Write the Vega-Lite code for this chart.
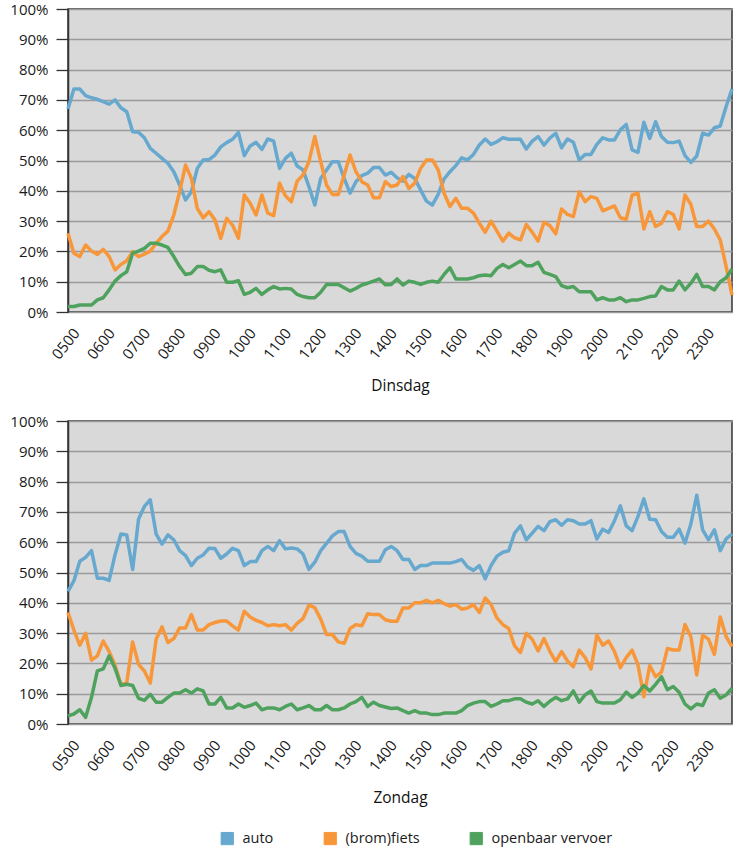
{
"$schema": "https://vega.github.io/schema/vega-lite/v6.json",
"padding": {"left": 9, "top": 1, "right": 4, "bottom": 4},
"spacing": 17,
"config": {
 "font": "Open Sans",
 "view": {"fill": "#d9d9d9", "stroke": "#333333", "strokeWidth": 1.5},
 "axis": {"labelFont": "Open Sans", "labelFontSize": 15, "labelColor": "#1a1a1a", "titleFont": "Open Sans", "titleFontSize": 15.5, "titleFontWeight": "normal", "titleColor": "#111111"},
 "legend": {"labelFont": "Open Sans", "labelFontSize": 14.5, "labelColor": "#1a1a1a"}
},
"datasets": {
"di": [
{"t":"0500","m":"auto","v":67.0},{"t":"0510","m":"auto","v":73.6},{"t":"0520","m":"auto","v":73.6},{"t":"0530","m":"auto","v":71.4},{"t":"0540","m":"auto","v":70.7},{"t":"0550","m":"auto","v":70.2},
{"t":"0600","m":"auto","v":69.4},{"t":"0610","m":"auto","v":68.6},{"t":"0620","m":"auto","v":70.0},{"t":"0630","m":"auto","v":67.4},{"t":"0640","m":"auto","v":66.1},{"t":"0650","m":"auto","v":59.5},
{"t":"0700","m":"auto","v":59.3},{"t":"0710","m":"auto","v":57.5},{"t":"0720","m":"auto","v":54.0},{"t":"0730","m":"auto","v":52.4},{"t":"0740","m":"auto","v":50.7},{"t":"0750","m":"auto","v":49.1},
{"t":"0800","m":"auto","v":46.3},{"t":"0810","m":"auto","v":41.9},{"t":"0820","m":"auto","v":37.0},{"t":"0830","m":"auto","v":39.7},{"t":"0840","m":"auto","v":47.4},{"t":"0850","m":"auto","v":50.2},
{"t":"0900","m":"auto","v":50.3},{"t":"0910","m":"auto","v":51.8},{"t":"0920","m":"auto","v":54.5},{"t":"0930","m":"auto","v":55.9},{"t":"0940","m":"auto","v":57.0},{"t":"0950","m":"auto","v":59.3},
{"t":"1000","m":"auto","v":51.6},{"t":"1010","m":"auto","v":54.8},{"t":"1020","m":"auto","v":56.0},{"t":"1030","m":"auto","v":53.7},{"t":"1040","m":"auto","v":57.1},{"t":"1050","m":"auto","v":56.4},
{"t":"1100","m":"auto","v":47.4},{"t":"1110","m":"auto","v":50.7},{"t":"1120","m":"auto","v":52.4},{"t":"1130","m":"auto","v":48.2},{"t":"1140","m":"auto","v":46.9},{"t":"1150","m":"auto","v":41.4},
{"t":"1200","m":"auto","v":35.3},{"t":"1210","m":"auto","v":44.1},{"t":"1220","m":"auto","v":46.9},{"t":"1230","m":"auto","v":49.6},{"t":"1240","m":"auto","v":49.6},{"t":"1250","m":"auto","v":44.1},
{"t":"1300","m":"auto","v":39.2},{"t":"1310","m":"auto","v":43.0},{"t":"1320","m":"auto","v":45.0},{"t":"1330","m":"auto","v":45.8},{"t":"1340","m":"auto","v":47.7},{"t":"1350","m":"auto","v":47.7},
{"t":"1400","m":"auto","v":45.2},{"t":"1410","m":"auto","v":46.1},{"t":"1420","m":"auto","v":44.3},{"t":"1430","m":"auto","v":43.2},{"t":"1440","m":"auto","v":45.4},{"t":"1450","m":"auto","v":44.1},
{"t":"1500","m":"auto","v":40.3},{"t":"1510","m":"auto","v":36.6},{"t":"1520","m":"auto","v":35.3},{"t":"1530","m":"auto","v":38.8},{"t":"1540","m":"auto","v":43.9},{"t":"1550","m":"auto","v":46.3},
{"t":"1600","m":"auto","v":48.3},{"t":"1610","m":"auto","v":50.9},{"t":"1620","m":"auto","v":50.2},{"t":"1630","m":"auto","v":52.0},{"t":"1640","m":"auto","v":55.1},{"t":"1650","m":"auto","v":57.1},
{"t":"1700","m":"auto","v":55.3},{"t":"1710","m":"auto","v":56.2},{"t":"1720","m":"auto","v":57.5},{"t":"1730","m":"auto","v":57.0},{"t":"1740","m":"auto","v":57.0},{"t":"1750","m":"auto","v":57.0},
{"t":"1800","m":"auto","v":53.8},{"t":"1810","m":"auto","v":56.4},{"t":"1820","m":"auto","v":57.9},{"t":"1830","m":"auto","v":55.1},{"t":"1840","m":"auto","v":57.4},{"t":"1850","m":"auto","v":59.0},
{"t":"1900","m":"auto","v":54.2},{"t":"1910","m":"auto","v":57.1},{"t":"1920","m":"auto","v":56.0},{"t":"1930","m":"auto","v":50.2},{"t":"1940","m":"auto","v":52.0},{"t":"1950","m":"auto","v":52.0},
{"t":"2000","m":"auto","v":55.3},{"t":"2010","m":"auto","v":57.5},{"t":"2020","m":"auto","v":56.8},{"t":"2030","m":"auto","v":56.8},{"t":"2040","m":"auto","v":60.1},{"t":"2050","m":"auto","v":61.9},
{"t":"2100","m":"auto","v":53.5},{"t":"2110","m":"auto","v":52.7},{"t":"2120","m":"auto","v":62.6},{"t":"2130","m":"auto","v":57.3},{"t":"2140","m":"auto","v":62.8},{"t":"2150","m":"auto","v":57.9},
{"t":"2200","m":"auto","v":56.0},{"t":"2210","m":"auto","v":55.9},{"t":"2220","m":"auto","v":56.4},{"t":"2230","m":"auto","v":51.6},{"t":"2240","m":"auto","v":49.4},{"t":"2250","m":"auto","v":51.5},
{"t":"2300","m":"auto","v":59.0},{"t":"2310","m":"auto","v":58.4},{"t":"2320","m":"auto","v":60.8},{"t":"2330","m":"auto","v":61.4},{"t":"2340","m":"auto","v":67.8},{"t":"2350","m":"auto","v":73.6},
{"t":"0500","m":"fiets","v":26.0},{"t":"0510","m":"fiets","v":19.4},{"t":"0520","m":"fiets","v":18.3},{"t":"0530","m":"fiets","v":22.1},{"t":"0540","m":"fiets","v":20.1},{"t":"0550","m":"fiets","v":19.0},
{"t":"0600","m":"fiets","v":20.7},{"t":"0610","m":"fiets","v":18.3},{"t":"0620","m":"fiets","v":13.9},{"t":"0630","m":"fiets","v":15.7},{"t":"0640","m":"fiets","v":16.9},{"t":"0650","m":"fiets","v":19.9},
{"t":"0700","m":"fiets","v":18.3},{"t":"0710","m":"fiets","v":19.1},{"t":"0720","m":"fiets","v":20.1},{"t":"0730","m":"fiets","v":22.7},{"t":"0740","m":"fiets","v":24.9},{"t":"0750","m":"fiets","v":26.7},
{"t":"0800","m":"fiets","v":32.0},{"t":"0810","m":"fiets","v":39.7},{"t":"0820","m":"fiets","v":48.5},{"t":"0830","m":"fiets","v":44.1},{"t":"0840","m":"fiets","v":34.2},{"t":"0850","m":"fiets","v":31.1},
{"t":"0900","m":"fiets","v":33.1},{"t":"0910","m":"fiets","v":30.4},{"t":"0920","m":"fiets","v":24.3},{"t":"0930","m":"fiets","v":30.9},{"t":"0940","m":"fiets","v":28.7},{"t":"0950","m":"fiets","v":24.3},
{"t":"1000","m":"fiets","v":38.6},{"t":"1010","m":"fiets","v":35.9},{"t":"1020","m":"fiets","v":32.0},{"t":"1030","m":"fiets","v":38.6},{"t":"1040","m":"fiets","v":32.6},{"t":"1050","m":"fiets","v":31.8},
{"t":"1100","m":"fiets","v":42.5},{"t":"1110","m":"fiets","v":38.4},{"t":"1120","m":"fiets","v":36.4},{"t":"1130","m":"fiets","v":43.2},{"t":"1140","m":"fiets","v":45.2},{"t":"1150","m":"fiets","v":49.6},
{"t":"1200","m":"fiets","v":57.9},{"t":"1210","m":"fiets","v":49.6},{"t":"1220","m":"fiets","v":41.9},{"t":"1230","m":"fiets","v":38.8},{"t":"1240","m":"fiets","v":38.8},{"t":"1250","m":"fiets","v":45.2},
{"t":"1300","m":"fiets","v":51.8},{"t":"1310","m":"fiets","v":46.3},{"t":"1320","m":"fiets","v":43.0},{"t":"1330","m":"fiets","v":41.9},{"t":"1340","m":"fiets","v":37.7},{"t":"1350","m":"fiets","v":37.7},
{"t":"1400","m":"fiets","v":43.0},{"t":"1410","m":"fiets","v":41.4},{"t":"1420","m":"fiets","v":41.9},{"t":"1430","m":"fiets","v":44.7},{"t":"1440","m":"fiets","v":40.8},{"t":"1450","m":"fiets","v":42.5},
{"t":"1500","m":"fiets","v":47.4},{"t":"1510","m":"fiets","v":50.2},{"t":"1520","m":"fiets","v":50.2},{"t":"1530","m":"fiets","v":46.9},{"t":"1540","m":"fiets","v":39.2},{"t":"1550","m":"fiets","v":34.8},
{"t":"1600","m":"fiets","v":37.5},{"t":"1610","m":"fiets","v":34.2},{"t":"1620","m":"fiets","v":34.2},{"t":"1630","m":"fiets","v":32.6},{"t":"1640","m":"fiets","v":29.3},{"t":"1650","m":"fiets","v":26.3},
{"t":"1700","m":"fiets","v":30.0},{"t":"1710","m":"fiets","v":26.7},{"t":"1720","m":"fiets","v":23.4},{"t":"1730","m":"fiets","v":26.0},{"t":"1740","m":"fiets","v":24.5},{"t":"1750","m":"fiets","v":23.8},
{"t":"1800","m":"fiets","v":28.9},{"t":"1810","m":"fiets","v":26.3},{"t":"1820","m":"fiets","v":23.4},{"t":"1830","m":"fiets","v":29.6},{"t":"1840","m":"fiets","v":28.5},{"t":"1850","m":"fiets","v":25.8},
{"t":"1900","m":"fiets","v":34.0},{"t":"1910","m":"fiets","v":32.2},{"t":"1920","m":"fiets","v":31.5},{"t":"1930","m":"fiets","v":39.7},{"t":"1940","m":"fiets","v":36.4},{"t":"1950","m":"fiets","v":38.1},
{"t":"2000","m":"fiets","v":37.5},{"t":"2010","m":"fiets","v":33.4},{"t":"2020","m":"fiets","v":34.2},{"t":"2030","m":"fiets","v":35.0},{"t":"2040","m":"fiets","v":31.1},{"t":"2050","m":"fiets","v":30.6},
{"t":"2100","m":"fiets","v":38.6},{"t":"2110","m":"fiets","v":39.2},{"t":"2120","m":"fiets","v":27.4},{"t":"2130","m":"fiets","v":33.1},{"t":"2140","m":"fiets","v":28.2},{"t":"2150","m":"fiets","v":29.3},
{"t":"2200","m":"fiets","v":33.1},{"t":"2210","m":"fiets","v":32.2},{"t":"2220","m":"fiets","v":27.4},{"t":"2230","m":"fiets","v":38.6},{"t":"2240","m":"fiets","v":35.5},{"t":"2250","m":"fiets","v":28.2},
{"t":"2300","m":"fiets","v":28.2},{"t":"2310","m":"fiets","v":30.0},{"t":"2320","m":"fiets","v":27.4},{"t":"2330","m":"fiets","v":23.8},{"t":"2340","m":"fiets","v":15.0},{"t":"2350","m":"fiets","v":5.6},
{"t":"0500","m":"ov","v":1.8},{"t":"0510","m":"ov","v":1.8},{"t":"0520","m":"ov","v":2.3},{"t":"0530","m":"ov","v":2.3},{"t":"0540","m":"ov","v":2.3},{"t":"0550","m":"ov","v":4.0},
{"t":"0600","m":"ov","v":4.7},{"t":"0610","m":"ov","v":7.3},{"t":"0620","m":"ov","v":10.2},{"t":"0630","m":"ov","v":12.0},{"t":"0640","m":"ov","v":13.3},{"t":"0650","m":"ov","v":19.4},
{"t":"0700","m":"ov","v":20.1},{"t":"0710","m":"ov","v":21.0},{"t":"0720","m":"ov","v":22.7},{"t":"0730","m":"ov","v":22.7},{"t":"0740","m":"ov","v":22.1},{"t":"0750","m":"ov","v":21.3},
{"t":"0800","m":"ov","v":18.3},{"t":"0810","m":"ov","v":15.0},{"t":"0820","m":"ov","v":12.4},{"t":"0830","m":"ov","v":12.8},{"t":"0840","m":"ov","v":15.0},{"t":"0850","m":"ov","v":15.0},
{"t":"0900","m":"ov","v":13.8},{"t":"0910","m":"ov","v":13.3},{"t":"0920","m":"ov","v":13.9},{"t":"0930","m":"ov","v":9.8},{"t":"0940","m":"ov","v":9.8},{"t":"0950","m":"ov","v":10.3},
{"t":"1000","m":"ov","v":5.8},{"t":"1010","m":"ov","v":6.5},{"t":"1020","m":"ov","v":7.8},{"t":"1030","m":"ov","v":5.8},{"t":"1040","m":"ov","v":7.3},{"t":"1050","m":"ov","v":8.4},
{"t":"1100","m":"ov","v":7.6},{"t":"1110","m":"ov","v":7.8},{"t":"1120","m":"ov","v":7.6},{"t":"1130","m":"ov","v":5.8},{"t":"1140","m":"ov","v":5.1},{"t":"1150","m":"ov","v":4.7},
{"t":"1200","m":"ov","v":4.7},{"t":"1210","m":"ov","v":6.5},{"t":"1220","m":"ov","v":9.1},{"t":"1230","m":"ov","v":9.1},{"t":"1240","m":"ov","v":9.1},{"t":"1250","m":"ov","v":8.0},
{"t":"1300","m":"ov","v":6.9},{"t":"1310","m":"ov","v":7.8},{"t":"1320","m":"ov","v":8.9},{"t":"1330","m":"ov","v":9.5},{"t":"1340","m":"ov","v":10.2},{"t":"1350","m":"ov","v":10.9},
{"t":"1400","m":"ov","v":9.0},{"t":"1410","m":"ov","v":9.1},{"t":"1420","m":"ov","v":10.9},{"t":"1430","m":"ov","v":8.9},{"t":"1440","m":"ov","v":10.2},{"t":"1450","m":"ov","v":9.8},
{"t":"1500","m":"ov","v":9.1},{"t":"1510","m":"ov","v":9.8},{"t":"1520","m":"ov","v":10.2},{"t":"1530","m":"ov","v":9.8},{"t":"1540","m":"ov","v":12.4},{"t":"1550","m":"ov","v":14.6},
{"t":"1600","m":"ov","v":10.9},{"t":"1610","m":"ov","v":10.9},{"t":"1620","m":"ov","v":10.9},{"t":"1630","m":"ov","v":11.3},{"t":"1640","m":"ov","v":12.0},{"t":"1650","m":"ov","v":12.2},
{"t":"1700","m":"ov","v":12.0},{"t":"1710","m":"ov","v":14.4},{"t":"1720","m":"ov","v":15.7},{"t":"1730","m":"ov","v":14.6},{"t":"1740","m":"ov","v":15.7},{"t":"1750","m":"ov","v":16.8},
{"t":"1800","m":"ov","v":15.3},{"t":"1810","m":"ov","v":15.3},{"t":"1820","m":"ov","v":16.4},{"t":"1830","m":"ov","v":13.1},{"t":"1840","m":"ov","v":12.4},{"t":"1850","m":"ov","v":11.7},
{"t":"1900","m":"ov","v":8.7},{"t":"1910","m":"ov","v":8.0},{"t":"1920","m":"ov","v":8.4},{"t":"1930","m":"ov","v":6.7},{"t":"1940","m":"ov","v":6.7},{"t":"1950","m":"ov","v":6.7},
{"t":"2000","m":"ov","v":4.0},{"t":"2010","m":"ov","v":4.7},{"t":"2020","m":"ov","v":4.0},{"t":"2030","m":"ov","v":4.0},{"t":"2040","m":"ov","v":4.7},{"t":"2050","m":"ov","v":3.4},
{"t":"2100","m":"ov","v":4.0},{"t":"2110","m":"ov","v":4.0},{"t":"2120","m":"ov","v":4.5},{"t":"2130","m":"ov","v":5.1},{"t":"2140","m":"ov","v":5.3},{"t":"2150","m":"ov","v":8.4},
{"t":"2200","m":"ov","v":7.3},{"t":"2210","m":"ov","v":7.3},{"t":"2220","m":"ov","v":10.2},{"t":"2230","m":"ov","v":7.3},{"t":"2240","m":"ov","v":9.5},{"t":"2250","m":"ov","v":12.4},
{"t":"2300","m":"ov","v":8.4},{"t":"2310","m":"ov","v":8.4},{"t":"2320","m":"ov","v":7.3},{"t":"2330","m":"ov","v":10.0},{"t":"2340","m":"ov","v":11.3},{"t":"2350","m":"ov","v":14.2}
],
"zo": [
{"t":"0500","m":"auto","v":43.8},{"t":"0510","m":"auto","v":47.2},{"t":"0520","m":"auto","v":53.7},{"t":"0530","m":"auto","v":55.0},{"t":"0540","m":"auto","v":57.2},{"t":"0550","m":"auto","v":48.1},
{"t":"0600","m":"auto","v":48.1},{"t":"0610","m":"auto","v":47.4},{"t":"0620","m":"auto","v":55.8},{"t":"0630","m":"auto","v":62.7},{"t":"0640","m":"auto","v":62.4},{"t":"0650","m":"auto","v":51.0},
{"t":"0700","m":"auto","v":67.6},{"t":"0710","m":"auto","v":71.8},{"t":"0720","m":"auto","v":74.0},{"t":"0730","m":"auto","v":62.7},{"t":"0740","m":"auto","v":59.4},{"t":"0750","m":"auto","v":62.4},
{"t":"0800","m":"auto","v":60.8},{"t":"0810","m":"auto","v":57.2},{"t":"0820","m":"auto","v":55.6},{"t":"0830","m":"auto","v":52.3},{"t":"0840","m":"auto","v":54.7},{"t":"0850","m":"auto","v":55.8},
{"t":"0900","m":"auto","v":58.0},{"t":"0910","m":"auto","v":57.9},{"t":"0920","m":"auto","v":54.7},{"t":"0930","m":"auto","v":56.1},{"t":"0940","m":"auto","v":58.0},{"t":"0950","m":"auto","v":57.2},
{"t":"1000","m":"auto","v":52.3},{"t":"1010","m":"auto","v":53.6},{"t":"1020","m":"auto","v":53.6},{"t":"1030","m":"auto","v":57.2},{"t":"1040","m":"auto","v":58.6},{"t":"1050","m":"auto","v":57.2},
{"t":"1100","m":"auto","v":60.5},{"t":"1110","m":"auto","v":57.8},{"t":"1120","m":"auto","v":58.1},{"t":"1130","m":"auto","v":57.8},{"t":"1140","m":"auto","v":56.1},{"t":"1150","m":"auto","v":51.0},
{"t":"1200","m":"auto","v":53.4},{"t":"1210","m":"auto","v":57.2},{"t":"1220","m":"auto","v":59.6},{"t":"1230","m":"auto","v":62.1},{"t":"1240","m":"auto","v":63.5},{"t":"1250","m":"auto","v":63.5},
{"t":"1300","m":"auto","v":58.6},{"t":"1310","m":"auto","v":56.3},{"t":"1320","m":"auto","v":55.4},{"t":"1330","m":"auto","v":53.7},{"t":"1340","m":"auto","v":53.7},{"t":"1350","m":"auto","v":53.7},
{"t":"1400","m":"auto","v":57.5},{"t":"1410","m":"auto","v":58.6},{"t":"1420","m":"auto","v":57.2},{"t":"1430","m":"auto","v":54.3},{"t":"1440","m":"auto","v":54.3},{"t":"1450","m":"auto","v":51.0},
{"t":"1500","m":"auto","v":52.3},{"t":"1510","m":"auto","v":52.3},{"t":"1520","m":"auto","v":53.1},{"t":"1530","m":"auto","v":53.1},{"t":"1540","m":"auto","v":53.1},{"t":"1550","m":"auto","v":53.1},
{"t":"1600","m":"auto","v":53.6},{"t":"1610","m":"auto","v":54.3},{"t":"1620","m":"auto","v":51.8},{"t":"1630","m":"auto","v":50.7},{"t":"1640","m":"auto","v":52.3},{"t":"1650","m":"auto","v":47.9},
{"t":"1700","m":"auto","v":52.3},{"t":"1710","m":"auto","v":55.4},{"t":"1720","m":"auto","v":56.7},{"t":"1730","m":"auto","v":57.2},{"t":"1740","m":"auto","v":63.0},{"t":"1750","m":"auto","v":65.4},
{"t":"1800","m":"auto","v":60.8},{"t":"1810","m":"auto","v":63.0},{"t":"1820","m":"auto","v":65.2},{"t":"1830","m":"auto","v":63.8},{"t":"1840","m":"auto","v":66.8},{"t":"1850","m":"auto","v":67.4},
{"t":"1900","m":"auto","v":65.6},{"t":"1910","m":"auto","v":67.4},{"t":"1920","m":"auto","v":67.1},{"t":"1930","m":"auto","v":66.0},{"t":"1940","m":"auto","v":66.0},{"t":"1950","m":"auto","v":67.1},
{"t":"2000","m":"auto","v":61.1},{"t":"2010","m":"auto","v":64.3},{"t":"2020","m":"auto","v":63.2},{"t":"2030","m":"auto","v":67.1},{"t":"2040","m":"auto","v":72.0},{"t":"2050","m":"auto","v":65.4},
{"t":"2100","m":"auto","v":63.8},{"t":"2110","m":"auto","v":68.5},{"t":"2120","m":"auto","v":74.3},{"t":"2130","m":"auto","v":67.6},{"t":"2140","m":"auto","v":67.4},{"t":"2150","m":"auto","v":63.5},
{"t":"2200","m":"auto","v":61.6},{"t":"2210","m":"auto","v":61.6},{"t":"2220","m":"auto","v":64.3},{"t":"2230","m":"auto","v":59.7},{"t":"2240","m":"auto","v":66.0},{"t":"2250","m":"auto","v":75.5},
{"t":"2300","m":"auto","v":64.1},{"t":"2310","m":"auto","v":60.8},{"t":"2320","m":"auto","v":64.1},{"t":"2330","m":"auto","v":57.2},{"t":"2340","m":"auto","v":61.1},{"t":"2350","m":"auto","v":62.7},
{"t":"0500","m":"fiets","v":36.8},{"t":"0510","m":"fiets","v":31.0},{"t":"0520","m":"fiets","v":26.0},{"t":"0530","m":"fiets","v":29.9},{"t":"0540","m":"fiets","v":21.1},{"t":"0550","m":"fiets","v":22.5},
{"t":"0600","m":"fiets","v":27.4},{"t":"0610","m":"fiets","v":23.9},{"t":"0620","m":"fiets","v":19.5},{"t":"0630","m":"fiets","v":13.1},{"t":"0640","m":"fiets","v":13.7},{"t":"0650","m":"fiets","v":27.1},
{"t":"0700","m":"fiets","v":19.7},{"t":"0710","m":"fiets","v":17.5},{"t":"0720","m":"fiets","v":13.5},{"t":"0730","m":"fiets","v":28.0},{"t":"0740","m":"fiets","v":32.1},{"t":"0750","m":"fiets","v":26.9},
{"t":"0800","m":"fiets","v":28.2},{"t":"0810","m":"fiets","v":31.7},{"t":"0820","m":"fiets","v":31.7},{"t":"0830","m":"fiets","v":36.1},{"t":"0840","m":"fiets","v":31.0},{"t":"0850","m":"fiets","v":31.0},
{"t":"0900","m":"fiets","v":32.8},{"t":"0910","m":"fiets","v":33.5},{"t":"0920","m":"fiets","v":34.0},{"t":"0930","m":"fiets","v":34.0},{"t":"0940","m":"fiets","v":32.4},{"t":"0950","m":"fiets","v":31.0},
{"t":"1000","m":"fiets","v":37.2},{"t":"1010","m":"fiets","v":35.3},{"t":"1020","m":"fiets","v":34.2},{"t":"1030","m":"fiets","v":33.5},{"t":"1040","m":"fiets","v":32.4},{"t":"1050","m":"fiets","v":32.8},
{"t":"1100","m":"fiets","v":32.4},{"t":"1110","m":"fiets","v":32.8},{"t":"1120","m":"fiets","v":31.0},{"t":"1130","m":"fiets","v":33.2},{"t":"1140","m":"fiets","v":34.8},{"t":"1150","m":"fiets","v":39.2},
{"t":"1200","m":"fiets","v":38.4},{"t":"1210","m":"fiets","v":34.6},{"t":"1220","m":"fiets","v":29.5},{"t":"1230","m":"fiets","v":29.5},{"t":"1240","m":"fiets","v":27.1},{"t":"1250","m":"fiets","v":26.6},
{"t":"1300","m":"fiets","v":31.5},{"t":"1310","m":"fiets","v":32.8},{"t":"1320","m":"fiets","v":32.4},{"t":"1330","m":"fiets","v":36.4},{"t":"1340","m":"fiets","v":36.1},{"t":"1350","m":"fiets","v":36.1},
{"t":"1400","m":"fiets","v":34.4},{"t":"1410","m":"fiets","v":33.9},{"t":"1420","m":"fiets","v":33.9},{"t":"1430","m":"fiets","v":38.3},{"t":"1440","m":"fiets","v":38.3},{"t":"1450","m":"fiets","v":40.0},
{"t":"1500","m":"fiets","v":40.0},{"t":"1510","m":"fiets","v":40.8},{"t":"1520","m":"fiets","v":40.0},{"t":"1530","m":"fiets","v":40.8},{"t":"1540","m":"fiets","v":39.7},{"t":"1550","m":"fiets","v":38.9},
{"t":"1600","m":"fiets","v":39.4},{"t":"1610","m":"fiets","v":37.9},{"t":"1620","m":"fiets","v":38.3},{"t":"1630","m":"fiets","v":39.4},{"t":"1640","m":"fiets","v":36.8},{"t":"1650","m":"fiets","v":41.6},
{"t":"1700","m":"fiets","v":39.4},{"t":"1710","m":"fiets","v":35.0},{"t":"1720","m":"fiets","v":32.8},{"t":"1730","m":"fiets","v":31.5},{"t":"1740","m":"fiets","v":25.8},{"t":"1750","m":"fiets","v":23.6},
{"t":"1800","m":"fiets","v":29.9},{"t":"1810","m":"fiets","v":28.0},{"t":"1820","m":"fiets","v":24.1},{"t":"1830","m":"fiets","v":28.2},{"t":"1840","m":"fiets","v":24.0},{"t":"1850","m":"fiets","v":20.6},
{"t":"1900","m":"fiets","v":23.9},{"t":"1910","m":"fiets","v":20.8},{"t":"1920","m":"fiets","v":18.9},{"t":"1930","m":"fiets","v":24.4},{"t":"1940","m":"fiets","v":21.9},{"t":"1950","m":"fiets","v":18.2},
{"t":"2000","m":"fiets","v":29.3},{"t":"2010","m":"fiets","v":26.0},{"t":"2020","m":"fiets","v":27.4},{"t":"2030","m":"fiets","v":23.9},{"t":"2040","m":"fiets","v":18.6},{"t":"2050","m":"fiets","v":21.9},
{"t":"2100","m":"fiets","v":24.4},{"t":"2110","m":"fiets","v":19.5},{"t":"2120","m":"fiets","v":9.0},{"t":"2130","m":"fiets","v":19.3},{"t":"2140","m":"fiets","v":15.6},{"t":"2150","m":"fiets","v":17.1},
{"t":"2200","m":"fiets","v":24.9},{"t":"2210","m":"fiets","v":24.4},{"t":"2220","m":"fiets","v":24.4},{"t":"2230","m":"fiets","v":32.8},{"t":"2240","m":"fiets","v":28.8},{"t":"2250","m":"fiets","v":16.2},
{"t":"2300","m":"fiets","v":29.3},{"t":"2310","m":"fiets","v":28.0},{"t":"2320","m":"fiets","v":23.0},{"t":"2330","m":"fiets","v":35.3},{"t":"2340","m":"fiets","v":28.8},{"t":"2350","m":"fiets","v":25.5},
{"t":"0500","m":"ov","v":2.7},{"t":"0510","m":"ov","v":3.3},{"t":"0520","m":"ov","v":4.7},{"t":"0530","m":"ov","v":2.2},{"t":"0540","m":"ov","v":8.8},{"t":"0550","m":"ov","v":17.5},
{"t":"0600","m":"ov","v":18.2},{"t":"0610","m":"ov","v":22.5},{"t":"0620","m":"ov","v":18.4},{"t":"0630","m":"ov","v":12.7},{"t":"0640","m":"ov","v":13.1},{"t":"0650","m":"ov","v":12.7},
{"t":"0700","m":"ov","v":8.5},{"t":"0710","m":"ov","v":7.8},{"t":"0720","m":"ov","v":9.8},{"t":"0730","m":"ov","v":7.2},{"t":"0740","m":"ov","v":7.2},{"t":"0750","m":"ov","v":8.8},
{"t":"0800","m":"ov","v":10.2},{"t":"0810","m":"ov","v":10.2},{"t":"0820","m":"ov","v":11.3},{"t":"0830","m":"ov","v":10.2},{"t":"0840","m":"ov","v":11.6},{"t":"0850","m":"ov","v":10.9},
{"t":"0900","m":"ov","v":6.6},{"t":"0910","m":"ov","v":6.6},{"t":"0920","m":"ov","v":8.8},{"t":"0930","m":"ov","v":5.3},{"t":"0940","m":"ov","v":5.3},{"t":"0950","m":"ov","v":6.6},
{"t":"1000","m":"ov","v":5.5},{"t":"1010","m":"ov","v":6.1},{"t":"1020","m":"ov","v":6.9},{"t":"1030","m":"ov","v":4.7},{"t":"1040","m":"ov","v":5.3},{"t":"1050","m":"ov","v":5.3},
{"t":"1100","m":"ov","v":4.7},{"t":"1110","m":"ov","v":5.8},{"t":"1120","m":"ov","v":6.6},{"t":"1130","m":"ov","v":4.7},{"t":"1140","m":"ov","v":5.3},{"t":"1150","m":"ov","v":6.1},
{"t":"1200","m":"ov","v":4.7},{"t":"1210","m":"ov","v":4.7},{"t":"1220","m":"ov","v":6.1},{"t":"1230","m":"ov","v":4.7},{"t":"1240","m":"ov","v":4.7},{"t":"1250","m":"ov","v":5.3},
{"t":"1300","m":"ov","v":6.6},{"t":"1310","m":"ov","v":7.4},{"t":"1320","m":"ov","v":8.8},{"t":"1330","m":"ov","v":5.8},{"t":"1340","m":"ov","v":7.2},{"t":"1350","m":"ov","v":6.1},
{"t":"1400","m":"ov","v":5.6},{"t":"1410","m":"ov","v":5.1},{"t":"1420","m":"ov","v":5.3},{"t":"1430","m":"ov","v":4.4},{"t":"1440","m":"ov","v":3.6},{"t":"1450","m":"ov","v":4.4},
{"t":"1500","m":"ov","v":3.6},{"t":"1510","m":"ov","v":3.6},{"t":"1520","m":"ov","v":3.1},{"t":"1530","m":"ov","v":3.1},{"t":"1540","m":"ov","v":3.6},{"t":"1550","m":"ov","v":3.6},
{"t":"1600","m":"ov","v":3.6},{"t":"1610","m":"ov","v":4.4},{"t":"1620","m":"ov","v":6.1},{"t":"1630","m":"ov","v":6.9},{"t":"1640","m":"ov","v":7.4},{"t":"1650","m":"ov","v":7.4},
{"t":"1700","m":"ov","v":5.8},{"t":"1710","m":"ov","v":6.6},{"t":"1720","m":"ov","v":7.7},{"t":"1730","m":"ov","v":7.7},{"t":"1740","m":"ov","v":8.3},{"t":"1750","m":"ov","v":8.3},
{"t":"1800","m":"ov","v":7.2},{"t":"1810","m":"ov","v":6.6},{"t":"1820","m":"ov","v":7.7},{"t":"1830","m":"ov","v":5.8},{"t":"1840","m":"ov","v":7.5},{"t":"1850","m":"ov","v":8.8},
{"t":"1900","m":"ov","v":7.7},{"t":"1910","m":"ov","v":8.3},{"t":"1920","m":"ov","v":10.9},{"t":"1930","m":"ov","v":7.2},{"t":"1940","m":"ov","v":9.6},{"t":"1950","m":"ov","v":10.9},
{"t":"2000","m":"ov","v":7.4},{"t":"2010","m":"ov","v":6.9},{"t":"2020","m":"ov","v":6.9},{"t":"2030","m":"ov","v":6.9},{"t":"2040","m":"ov","v":8.0},{"t":"2050","m":"ov","v":10.5},
{"t":"2100","m":"ov","v":8.8},{"t":"2110","m":"ov","v":10.2},{"t":"2120","m":"ov","v":12.7},{"t":"2130","m":"ov","v":10.9},{"t":"2140","m":"ov","v":13.1},{"t":"2150","m":"ov","v":15.6},
{"t":"2200","m":"ov","v":11.3},{"t":"2210","m":"ov","v":12.4},{"t":"2220","m":"ov","v":10.5},{"t":"2230","m":"ov","v":6.6},{"t":"2240","m":"ov","v":5.0},{"t":"2250","m":"ov","v":6.6},
{"t":"2300","m":"ov","v":6.1},{"t":"2310","m":"ov","v":10.2},{"t":"2320","m":"ov","v":11.3},{"t":"2330","m":"ov","v":8.5},{"t":"2340","m":"ov","v":9.6},{"t":"2350","m":"ov","v":11.8}
]
},
"vconcat": [
{
 "width": 664, "height": 303,
 "data": {"name": "di"},
 "mark": {"type": "line", "strokeWidth": 3.5, "strokeJoin": "round"},
 "encoding": {
  "x": {"field": "t", "type": "ordinal", "scale": {"type": "point", "padding": 0},
   "axis": {"values": ["0500","0600","0700","0800","0900","1000","1100","1200","1300","1400","1500","1600","1700","1800","1900","2000","2100","2200","2300"],
    "labelAngle": -52, "labelAlign": "right", "labelBaseline": "middle", "ticks": false, "domain": false, "grid": false, "labelPadding": 18, "labelOffset": 8,
    "title": "Dinsdag", "titlePadding": 17}},
  "y": {"field": "v", "type": "quantitative", "scale": {"domain": [0, 100], "nice": false},
   "axis": {"values": [0,10,20,30,40,50,60,70,80,90,100], "labelExpr": "datum.value + '%'", "tickSize": 12, "tickColor": "#333333", "tickWidth": 1.3, "domainColor": "#333333", "domainWidth": 1.5, "gridColor": "#9a9a9a", "gridWidth": 1.3, "labelPadding": 8, "title": null}},
  "color": {"field": "m", "type": "nominal",
   "scale": {"domain": ["auto", "fiets", "ov"], "range": ["#67a8cf", "#f8973a", "#4fa25e"]},
   "legend": {"orient": "none", "legendX": 152, "legendY": 822, "direction": "horizontal", "title": null, "symbolType": "square", "symbolSize": 150, "symbolStrokeWidth": 1, "symbolStrokeColor": "#444444", "columnPadding": 48, "labelOffset": 8,
    "labelExpr": "datum.label == 'fiets' ? '(brom)fiets' : (datum.label == 'ov' ? 'openbaar vervoer' : datum.label)",
    "encode": {"symbols": {"update": {"fill": {"scale": "color", "field": "value"}, "fillOpacity": {"value": 1}, "stroke": {"value": "#444444"}, "strokeWidth": {"value": 1}}}}}
  }
 }
},
{
 "width": 664, "height": 303,
 "data": {"name": "zo"},
 "mark": {"type": "line", "strokeWidth": 3.5, "strokeJoin": "round"},
 "encoding": {
  "x": {"field": "t", "type": "ordinal", "scale": {"type": "point", "padding": 0},
   "axis": {"values": ["0500","0600","0700","0800","0900","1000","1100","1200","1300","1400","1500","1600","1700","1800","1900","2000","2100","2200","2300"],
    "labelAngle": -52, "labelAlign": "right", "labelBaseline": "middle", "ticks": false, "domain": false, "grid": false, "labelPadding": 18, "labelOffset": 8,
    "title": "Zondag", "titlePadding": 17}},
  "y": {"field": "v", "type": "quantitative", "scale": {"domain": [0, 100], "nice": false},
   "axis": {"values": [0,10,20,30,40,50,60,70,80,90,100], "labelExpr": "datum.value + '%'", "tickSize": 12, "tickColor": "#333333", "tickWidth": 1.3, "domainColor": "#333333", "domainWidth": 1.5, "gridColor": "#9a9a9a", "gridWidth": 1.3, "labelPadding": 8, "title": null}},
  "color": {"field": "m", "type": "nominal",
   "scale": {"domain": ["auto", "fiets", "ov"], "range": ["#67a8cf", "#f8973a", "#4fa25e"]},
   "legend": {"orient": "none", "legendX": 152, "legendY": 822, "direction": "horizontal", "title": null, "symbolType": "square", "symbolSize": 150, "symbolStrokeWidth": 1, "symbolStrokeColor": "#444444", "columnPadding": 48, "labelOffset": 8,
    "labelExpr": "datum.label == 'fiets' ? '(brom)fiets' : (datum.label == 'ov' ? 'openbaar vervoer' : datum.label)",
    "encode": {"symbols": {"update": {"fill": {"scale": "color", "field": "value"}, "fillOpacity": {"value": 1}, "stroke": {"value": "#444444"}, "strokeWidth": {"value": 1}}}}}
  }
 }
}
]
}
